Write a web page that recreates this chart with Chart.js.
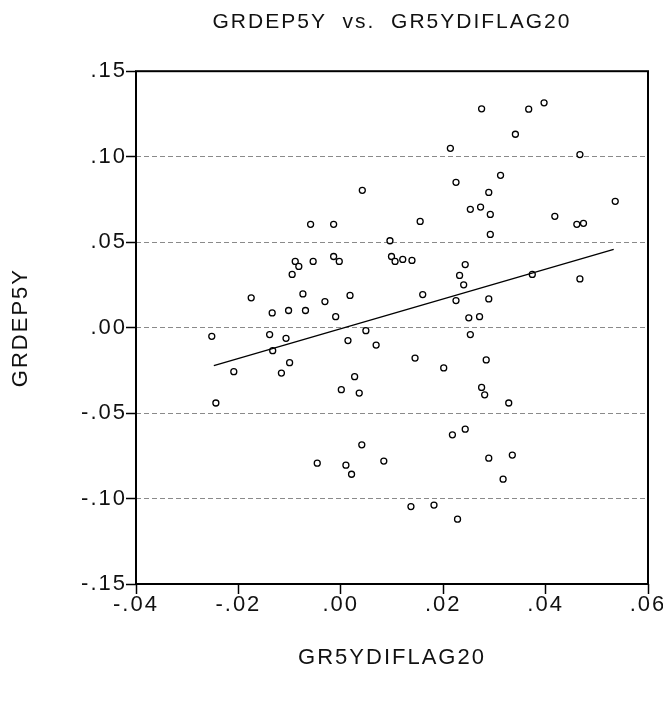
<!DOCTYPE html>
<html>
<head>
<meta charset="utf-8">
<script src="https://cdn.jsdelivr.net/npm/chart.js@4.4.1/dist/chart.umd.min.js"></script>
<style>
  body { margin: 0; background: #fff; }
  canvas { display: block; }
</style>
</head>
<body>
<canvas id="scatterChart" width="663" height="704"></canvas>
<script>
// GR5YDIFLAG20 (x) y GRDEP5Y (y)
var xVals = [
  0.0042, -0.0059, -0.0014, 0.0096, 0.0275, 0.0367, 0.0397, 0.0341, 0.0214, 0.0467,
  0.0312, 0.0225, 0.0289, 0.0253, 0.0273, 0.0292, 0.0418, 0.0461, 0.0474, 0.0536,
  0.0292, 0.0155, -0.0089, -0.0082, -0.0054, -0.0014, -0.0003, 0.0099, 0.0106, -0.0095,
  -0.0175, -0.0074, -0.0031, 0.0018, -0.0134, -0.0102, -0.0069, -0.0010, -0.0252, -0.0139,
  -0.0107, -0.0133, 0.0049, 0.0014, 0.0069, -0.0100, -0.0116, -0.0209, 0.0027, 0.0001,
  0.0036, -0.0244, 0.0041, 0.0121, 0.0139, 0.0243, 0.0232, 0.0240, 0.0374, 0.0467,
  0.0160, 0.0225, 0.0289, 0.0250, 0.0271, 0.0253, 0.0145, 0.0201, 0.0284, 0.0275,
  0.0281, 0.0328, 0.0218, 0.0243, -0.0046, 0.0010, 0.0021, 0.0084, 0.0289, 0.0335,
  0.0317, 0.0137, 0.0182, 0.0228
];
var yVals = [
  0.0803, 0.0604, 0.0604, 0.0508, 0.1280, 0.1278, 0.1315, 0.1131, 0.1049, 0.1012,
  0.0891, 0.0850, 0.0791, 0.0692, 0.0705, 0.0662, 0.0651, 0.0604, 0.0610, 0.0739,
  0.0545, 0.0621, 0.0387, 0.0358, 0.0387, 0.0416, 0.0387, 0.0416, 0.0387, 0.0311,
  0.0174, 0.0197, 0.0152, 0.0188, 0.0086, 0.0100, 0.0100, 0.0064, -0.0051, -0.0041,
  -0.0063, -0.0135, -0.0018, -0.0076, -0.0102, -0.0205, -0.0266, -0.0258, -0.0287, -0.0363,
  -0.0383, -0.0441, -0.0686, 0.0399, 0.0393, 0.0369, 0.0305, 0.0250, 0.0311, 0.0285,
  0.0193, 0.0158, 0.0168, 0.0057, 0.0064, -0.0041, -0.0178, -0.0236, -0.0189, -0.0350,
  -0.0393, -0.0441, -0.0627, -0.0594, -0.0793, -0.0805, -0.0858, -0.0781, -0.0764, -0.0746,
  -0.0887, -0.1047, -0.1038, -0.1121
];

// recta de regresion (extremos)
var fitX = [-0.0248, 0.0533];
var fitY = [-0.0223, 0.0457];

var xTicks = [-0.04, -0.02, 0.00, 0.02, 0.04, 0.06];
var yTicks = [-0.15, -0.10, -0.05, 0.00, 0.05, 0.10, 0.15];

function fmt(v) {
  var s = Math.abs(v).toFixed(2).replace(/^0/, '');
  return (v < -1e-9 ? '-' : '') + s;
}

var points = xVals.map(function (x, i) { return { x: x, y: yVals[i] }; });
var fitLine = fitX.map(function (x, i) { return { x: x, y: fitY[i] }; });

// texto mas ancho, como en el original
var spacing = {
  id: 'spacing',
  beforeLayout: function (chart) { chart.ctx.letterSpacing = '2px'; },
  beforeDraw: function (chart) { chart.ctx.letterSpacing = '2px'; }
};

// marco del grafico
var frame = {
  id: 'frame',
  afterDatasetsDraw: function (chart) {
    var a = chart.chartArea, ctx = chart.ctx;
    ctx.save();
    ctx.strokeStyle = '#000';
    ctx.lineWidth = 2;
    ctx.setLineDash([]);
    ctx.strokeRect(a.left, a.top, a.right - a.left, a.bottom - a.top);
    ctx.restore();
  }
};

var font = 'Liberation Sans, Arial, sans-serif';
Chart.defaults.color = '#111';

var ctx = document.getElementById('scatterChart').getContext('2d');
new Chart(ctx, {
  type: 'scatter',
  data: {
    datasets: [{
      data: points,
      pointRadius: 3,
      pointBorderWidth: 1.3,
      pointBorderColor: '#000',
      pointBackgroundColor: '#fff',
      order: 2
    }, {
      type: 'line',
      data: fitLine,
      borderColor: '#000',
      borderWidth: 1.3,
      pointRadius: 0,
      fill: false,
      order: 1
    }]
  },
  plugins: [spacing, frame],
  options: {
    responsive: false,
    animation: false,
    layout: { padding: { left: 0, right: 15, top: 0, bottom: 0 } },
    plugins: {
      legend: { display: false },
      tooltip: { enabled: false },
      title: {
        display: true,
        fullSize: false,
        text: 'GRDEP5Y  vs.  GR5YDIFLAG20',
        color: '#111',
        font: { family: font, size: 21, weight: 'normal' },
        padding: { top: 10, bottom: 36 }
      }
    },
    scales: {
      x: {
        type: 'linear',
        min: -0.04,
        max: 0.06,
        afterBuildTicks: function (s) { s.ticks = xTicks.map(function (v) { return { value: v }; }); },
        afterFit: function (s) { s.height = 120; s.paddingLeft = 0; s.paddingRight = 0; },
        border: { display: false },
        grid: {
          drawOnChartArea: false,
          drawTicks: true,
          tickLength: 10,
          tickColor: '#000',
          tickWidth: 1.5
        },
        ticks: {
          padding: -2,
          maxRotation: 0,
          font: { family: font, size: 22 },
          callback: function (v) { return fmt(v); }
        },
        title: {
          display: true,
          text: 'GR5YDIFLAG20',
          font: { family: font, size: 22 },
          padding: { top: 0, bottom: 33 }
        }
      },
      y: {
        type: 'linear',
        min: -0.15,
        max: 0.15,
        afterBuildTicks: function (s) { s.ticks = yTicks.map(function (v) { return { value: v }; }); },
        afterFit: function (s) { s.width = 136; s.paddingTop = 0; s.paddingBottom = 0; },
        border: { display: false, dash: [5, 3] },
        grid: {
          color: '#8a8a8a',
          lineWidth: 1,
          drawTicks: true,
          tickLength: 10,
          tickColor: '#000',
          tickWidth: 1.5,
          tickBorderDash: []
        },
        ticks: {
          padding: -1,
          font: { family: font, size: 22 },
          callback: function (v) { return fmt(v); }
        },
        title: {
          display: true,
          text: 'GRDEP5Y',
          font: { family: font, size: 22 },
          padding: { top: 8, bottom: 0 }
        }
      }
    }
  }
});
</script>
</body>
</html>
